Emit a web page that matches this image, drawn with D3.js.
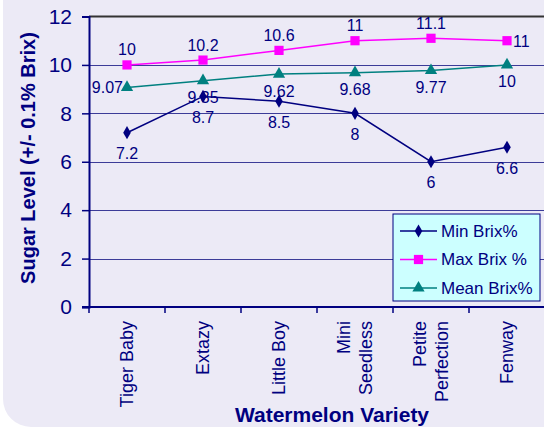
<!DOCTYPE html>
<html>
<head>
<meta charset="utf-8">
<script src="https://cdn.jsdelivr.net/npm/d3@7"></script>
<style>
  body { margin: 0; background: #fff; }
  svg { display: block; font-family: "Liberation Sans", Arial, sans-serif; }
</style>
</head>
<body>
<svg id="chart" width="544" height="428"></svg>
<script>
// values
const varieties = ["Tiger Baby", "Extazy", "Little Boy", "Mini Seedless", "Petite Perfection", "Fenway"];
const minBrix = [7.2, 8.7, 8.5, 8, 6, 6.6];
const maxBrix = [10, 10.2, 10.6, 11, 11.1, 11];
const meanBrix = [9.07, 9.35, 9.62, 9.68, 9.77, 10];
const yTicks = [0, 2, 4, 6, 8, 10, 12];

{
const svg = d3.select("#chart");
const navy = "#000080";

// chart area background with rounded bottom-left corner
svg.append("rect")
    .attr("x", 3).attr("y", -40)
    .attr("width", 600).attr("height", 467)
    .attr("rx", 28)
    .attr("fill", "#ECEAF6");

const x = d3.scaleBand().domain(varieties).range([89, 545]);
const y = d3.scaleLinear().domain([0, 12]).range([307, 16.5]);
const cx = d => x(d) + x.bandwidth() / 2;

// gridlines
svg.append("g").selectAll("line")
    .data(yTicks.filter(t => t > 0 && t < 12))
    .enter().append("line")
    .attr("x1", 89).attr("x2", 545)
    .attr("y1", d => Math.round(y(d)) + 0.5).attr("y2", d => Math.round(y(d)) + 0.5)
    .attr("stroke", "#3c3c98").attr("stroke-width", 1);

// top border
svg.append("line")
    .attr("x1", 89).attr("x2", 545)
    .attr("y1", y(12)).attr("y2", y(12))
    .attr("stroke", "#333").attr("stroke-width", 2);

// y axis
const yAxis = svg.append("g")
    .attr("transform", "translate(89,0)")
    .call(d3.axisLeft(y).tickValues(yTicks).tickSize(7).tickPadding(10));
yAxis.select(".domain").attr("stroke", navy).attr("stroke-width", 2);
yAxis.selectAll(".tick line").attr("stroke", navy).attr("stroke-width", 1.5);
yAxis.selectAll(".tick text")
    .attr("fill", navy).attr("font-size", 21)
    .attr("font-family", "Liberation Sans, Arial, sans-serif");

// x axis
const xAxis = svg.append("g")
    .attr("transform", "translate(0,307)");
xAxis.append("line")
    .attr("x1", 82).attr("x2", 545)
    .attr("stroke", navy).attr("stroke-width", 2);
xAxis.selectAll(".xt")
    .data(varieties)
    .enter().append("line")
    .attr("x1", d => x(d)).attr("x2", d => x(d))
    .attr("y1", 0).attr("y2", 6)
    .attr("stroke", navy).attr("stroke-width", 1.5);

// category labels, rotated, wrapped like the original
const catLines = {"Mini Seedless": ["Mini", "Seedless"], "Petite Perfection": ["Petite", "Perfection"]};
varieties.forEach(v => {
    const lines = catLines[v] || [v];
    const t = svg.append("text")
        .attr("transform", `translate(${cx(v)},321) rotate(-90)`)
        .attr("text-anchor", "end")
        .attr("fill", navy)
        .attr("font-size", 18);
    lines.forEach((l, i) => {
        t.append("tspan")
            .attr("x", 0)
            .attr("y", (i - (lines.length - 1) / 2) * 22 + 6)
            .text(l);
    });
});

// axis titles
svg.append("text")
    .attr("transform", "translate(35,158) rotate(-90)")
    .attr("text-anchor", "middle")
    .attr("fill", navy).attr("font-size", 20).attr("font-weight", "bold")
    .text("Sugar Level (+/- 0.1% Brix)");
svg.append("text")
    .attr("x", 332).attr("y", 422)
    .attr("text-anchor", "middle")
    .attr("fill", navy).attr("font-size", 21).attr("font-weight", "bold")
    .text("Watermelon Variety");

const series = [
    {name: "Min Brix%", values: minBrix, color: navy, symbol: d3.symbolDiamond, size: 50},
    {name: "Max Brix %", values: maxBrix, color: "#FF00FF", symbol: d3.symbolSquare, size: 85},
    {name: "Mean Brix%", values: meanBrix, color: "#008080", symbol: d3.symbolTriangle, size: 65}
];

const line = d3.line().x((d, i) => cx(varieties[i])).y(d => y(d));

series.forEach(s => {
    svg.append("path")
        .attr("d", line(s.values))
        .attr("fill", "none")
        .attr("stroke", s.color).attr("stroke-width", 1.5);
    svg.append("g").selectAll("path")
        .data(s.values)
        .enter().append("path")
        .attr("transform", (d, i) => `translate(${cx(varieties[i])},${y(d)})`)
        .attr("d", d3.symbol().type(s.symbol).size(s.size))
        .attr("fill", s.color);
});

// data labels
function label(px, py, txt, anchor) {
    svg.append("text")
        .attr("x", px).attr("y", py)
        .attr("text-anchor", anchor || "middle")
        .attr("dominant-baseline", "central")
        .attr("fill", navy).attr("font-size", 16)
        .text(txt);
}
minBrix.forEach((v, i) => label(cx(varieties[i]), y(v) + 21, v));
maxBrix.forEach((v, i) => {
    if (i === maxBrix.length - 1) label(cx(varieties[i]) + 6, y(v) + 1, v, "start");
    else label(cx(varieties[i]), y(v) - 15, v);
});
meanBrix.forEach((v, i) => {
    if (i === 0) label(cx(varieties[i]) - 4, y(v), v, "end");
    else label(cx(varieties[i]), y(v) + 17, v);
});

// legend
const lg = svg.append("g").attr("transform", "translate(393,214)");
lg.append("rect")
    .attr("width", 147).attr("height", 87)
    .attr("fill", "#CCFFFF").attr("stroke", navy).attr("stroke-width", 1);
series.forEach((s, i) => {
    const ly = 17 + i * 28.5;
    lg.append("line")
        .attr("x1", 7).attr("x2", 44).attr("y1", ly).attr("y2", ly)
        .attr("stroke", s.color).attr("stroke-width", 1.5);
    lg.append("path")
        .attr("transform", `translate(25.5,${ly})`)
        .attr("d", d3.symbol().type(s.symbol).size(s.size))
        .attr("fill", s.color);
    lg.append("text")
        .attr("x", 48).attr("y", ly)
        .attr("dominant-baseline", "central")
        .attr("fill", navy).attr("font-size", 17)
        .text(s.name);
});
}
</script>
</body>
</html>
